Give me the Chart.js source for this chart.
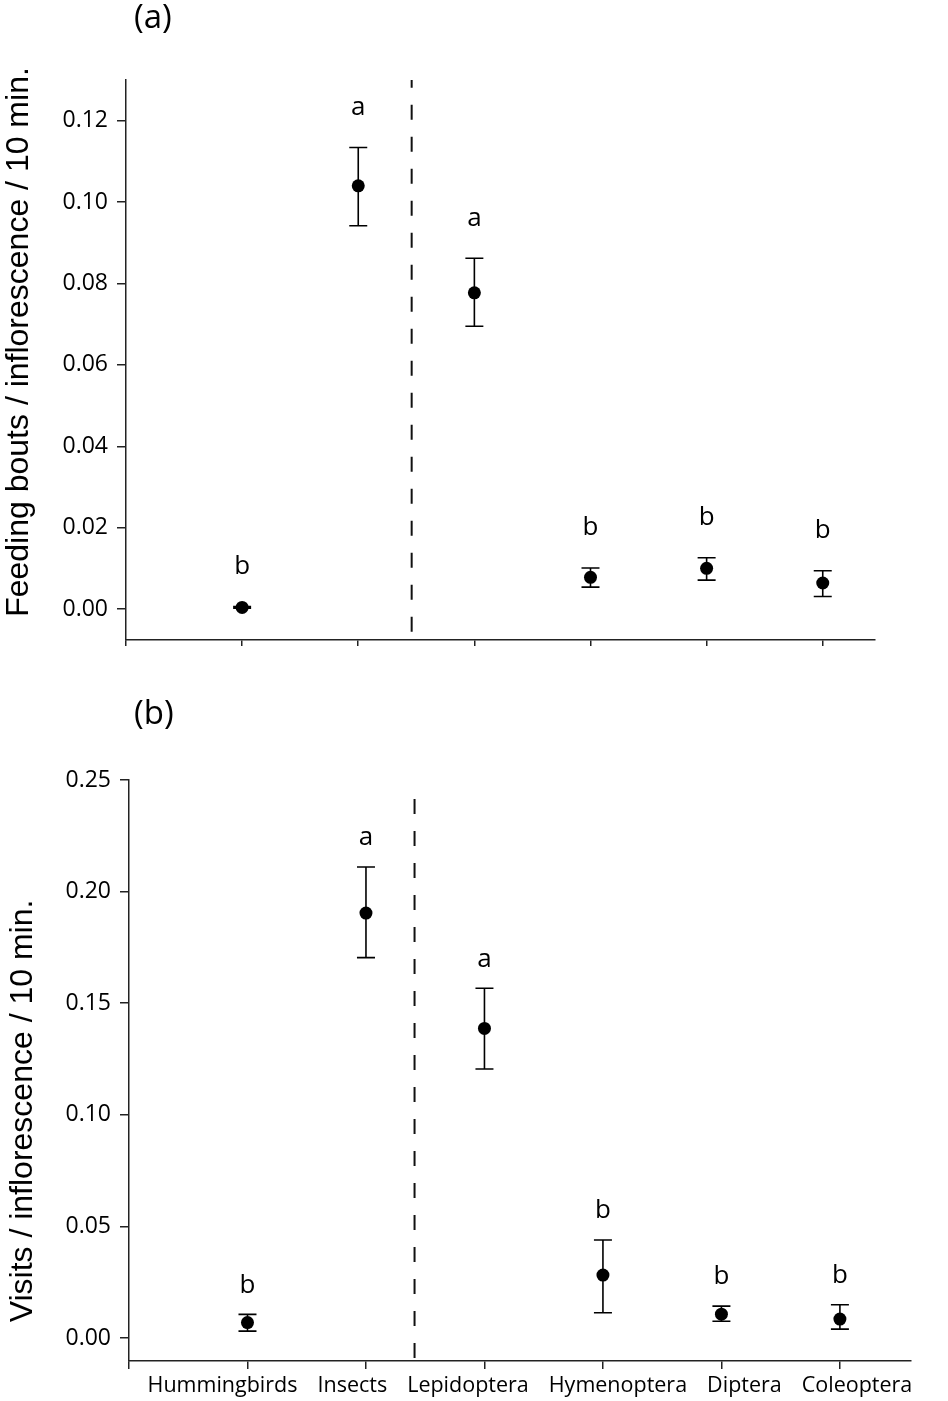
<!DOCTYPE html>
<html>
<head>
<meta charset="utf-8">
<script src="https://cdn.jsdelivr.net/npm/chart.js@4.4.1/dist/chart.umd.min.js"></script>
<style>
  html, body { margin: 0; padding: 0; background: #fff; }
  #wrap { position: relative; width: 948px; height: 1401px; }
  canvas { position: absolute; left: 0; }
  #chart-a { top: 0; }
  #chart-b { top: 680px; }
</style>
</head>
<body>
<div id="wrap">
  <canvas id="chart-a" width="948" height="680"></canvas>
  <canvas id="chart-b" width="948" height="721"></canvas>
</div>
<script>
// pollinator groups, plotted at x = 1..6
const groups = ['Hummingbirds', 'Insects', 'Lepidoptera', 'Hymenoptera', 'Diptera', 'Coleoptera'];
const groupX = [1, 2, 3, 4, 5, 6];
const xTicks = [0, 1, 2, 3, 4, 5, 6];

// (a) feeding bouts / inflorescence / 10 min
const feedMean = [0.0004, 0.1040, 0.0777, 0.0078, 0.0100, 0.0064];
const feedLow  = [0.0002, 0.0942, 0.0695, 0.0054, 0.0071, 0.0031];
const feedHigh = [0.0006, 0.1134, 0.0862, 0.0101, 0.0126, 0.0094];
const feedLetters = ['b', 'a', 'a', 'b', 'b', 'b'];
const feedTicks = [0, 0.02, 0.04, 0.06, 0.08, 0.10, 0.12];
const feedRange = [-0.0076, 0.13];
const feedDivider = { x: 2.46, from: -0.0056, to: 0.13 };

// (b) visits / inflorescence / 10 min
const visitMean = [0.0069, 0.1904, 0.1387, 0.0282, 0.0107, 0.0085];
const visitLow  = [0.0031, 0.1704, 0.1205, 0.0113, 0.0075, 0.0040];
const visitHigh = [0.0106, 0.2110, 0.1567, 0.0439, 0.0143, 0.0149];
const visitLetters = ['b', 'a', 'a', 'b', 'b', 'b'];
const visitTicks = [0, 0.05, 0.10, 0.15, 0.20, 0.25];
const visitRange = [-0.0103, 0.25];
const visitDivider = { x: 2.41, from: -0.009, to: 0.2423 };

const AXIS = '#222';
const SANS = '"Open Sans", "Noto Sans", sans-serif';

// error bars, letters, panel tag, y title and category labels
const panelDecor = {
  id: 'panelDecor',
  beforeDatasetsDraw(chart, args, o) {
    const { ctx } = chart;
    const xs = chart.scales.x, ys = chart.scales.y;
    ctx.save();
    ctx.strokeStyle = '#000';
    ctx.lineWidth = 1.6;
    groupX.forEach((gx, i) => {
      const px = xs.getPixelForValue(gx);
      const yl = ys.getPixelForValue(o.low[i]);
      const yh = ys.getPixelForValue(o.high[i]);
      ctx.beginPath();
      ctx.moveTo(px, yl); ctx.lineTo(px, yh);
      ctx.moveTo(px - 9, yl); ctx.lineTo(px + 9, yl);
      ctx.moveTo(px - 9, yh); ctx.lineTo(px + 9, yh);
      ctx.stroke();
    });
    ctx.restore();
  },
  afterDatasetsDraw(chart, args, o) {
    const { ctx } = chart;
    const xs = chart.scales.x, ys = chart.scales.y;
    ctx.save();
    ctx.fillStyle = '#000';

    // significance letters
    ctx.font = '26px ' + SANS;
    ctx.textAlign = 'center';
    ctx.textBaseline = 'middle';
    groupX.forEach((gx, i) => {
      ctx.fillText(o.letters[i], xs.getPixelForValue(gx), ys.getPixelForValue(o.high[i]) - o.letterGap);
    });

    // panel tag
    ctx.font = '33px ' + SANS;
    ctx.textAlign = 'left';
    ctx.fillText(o.tag, 134, o.tagY);

    // y-axis title
    ctx.save();
    ctx.font = '32px "Liberation Sans", Arial, sans-serif';
    ctx.textAlign = 'center';
    ctx.textBaseline = 'alphabetic';
    ctx.translate(o.titleX, o.titleY);
    ctx.rotate(-Math.PI / 2);
    ctx.fillText(o.yTitle, 0, 0);
    ctx.restore();

    // category labels, spread apart where they would collide
    if (o.showLabels) {
      ctx.font = '21.5px ' + SANS;
      ctx.textAlign = 'center';
      const w = groups.map(g => ctx.measureText(g).width);
      const c = groupX.map(gx => xs.getPixelForValue(gx));
      const gap = 20;
      for (let it = 0; it < 80; it++) {
        for (let i = 0; i < c.length - 1; i++) {
          const over = (c[i] + w[i] / 2 + gap) - (c[i + 1] - w[i + 1] / 2);
          if (over > 0) { c[i] -= over / 2; c[i + 1] += over / 2; }
        }
      }
      groups.forEach((g, i) => ctx.fillText(g, c[i], o.labelY));
    }
    ctx.restore();
  }
};

function makePanel(id, cfg) {
  const canvas = document.getElementById(id);
  return new Chart(canvas, {
    type: 'scatter',
    data: {
      datasets: [
        {
          data: groupX.map((x, i) => ({ x, y: cfg.mean[i] })),
          pointRadius: 6.5,
          pointBackgroundColor: '#000',
          pointBorderColor: '#000',
          pointBorderWidth: 0
        },
        {
          data: [{ x: cfg.divider.x, y: cfg.divider.from }, { x: cfg.divider.x, y: cfg.divider.to }],
          showLine: true,
          borderColor: '#111',
          borderWidth: 2,
          borderDash: [15, 17],
          pointRadius: 0
        }
      ]
    },
    options: {
      responsive: false,
      animation: false,
      events: [],
      layout: { padding: { left: 0, top: cfg.top, right: cfg.right, bottom: 0 } },
      plugins: {
        legend: { display: false },
        tooltip: { enabled: false },
        panelDecor: {
          low: cfg.low, high: cfg.high, letters: cfg.letters, letterGap: cfg.letterGap,
          tag: cfg.tag, tagY: cfg.tagY, yTitle: cfg.yTitle, titleX: cfg.titleX, titleY: cfg.titleY,
          showLabels: cfg.showLabels, labelY: cfg.labelY
        }
      },
      scales: {
        x: {
          type: 'linear', min: 0, max: cfg.xMax,
          afterBuildTicks: s => { s.ticks = xTicks.map(v => ({ value: v })); },
          afterFit: s => { s.height = 40; },
          ticks: { display: false },
          grid: { drawOnChartArea: false, tickLength: cfg.xTickLen, color: AXIS, lineWidth: 1.5 },
          border: { display: true, color: AXIS, width: 1.5 }
        },
        y: {
          type: 'linear', min: cfg.range[0], max: cfg.range[1],
          afterBuildTicks: s => { s.ticks = cfg.ticks.map(v => ({ value: v })); },
          afterFit: s => { s.width = cfg.left; },
          ticks: { callback: v => v.toFixed(2), color: '#000', font: { family: SANS, size: 23 }, padding: 9 },
          grid: { drawOnChartArea: false, tickLength: 9, color: AXIS, lineWidth: 1.5 },
          border: { display: true, color: AXIS, width: 1.5 }
        }
      }
    },
    plugins: [panelDecor]
  });
}

makePanel('chart-a', {
  mean: feedMean, low: feedLow, high: feedHigh, letters: feedLetters, letterGap: 40,
  ticks: feedTicks, range: feedRange, divider: feedDivider,
  xMax: 6.45, xTickLen: 6, left: 126, top: 80, right: 73,
  tag: '(a)', tagY: 19, yTitle: 'Feeding bouts / inflorescence / 10 min.', titleX: 28, titleY: 342,
  showLabels: false, labelY: 0
});

makePanel('chart-b', {
  mean: visitMean, low: visitLow, high: visitHigh, letters: visitLetters, letterGap: 29,
  ticks: visitTicks, range: visitRange, divider: visitDivider,
  xMax: 6.6, xTickLen: 8, left: 129, top: 100, right: 37,
  tag: '(b)', tagY: 35, yTitle: 'Visits / inflorescence / 10 min.', titleX: 32, titleY: 431,
  showLabels: true, labelY: 706
});
</script>
</body>
</html>
